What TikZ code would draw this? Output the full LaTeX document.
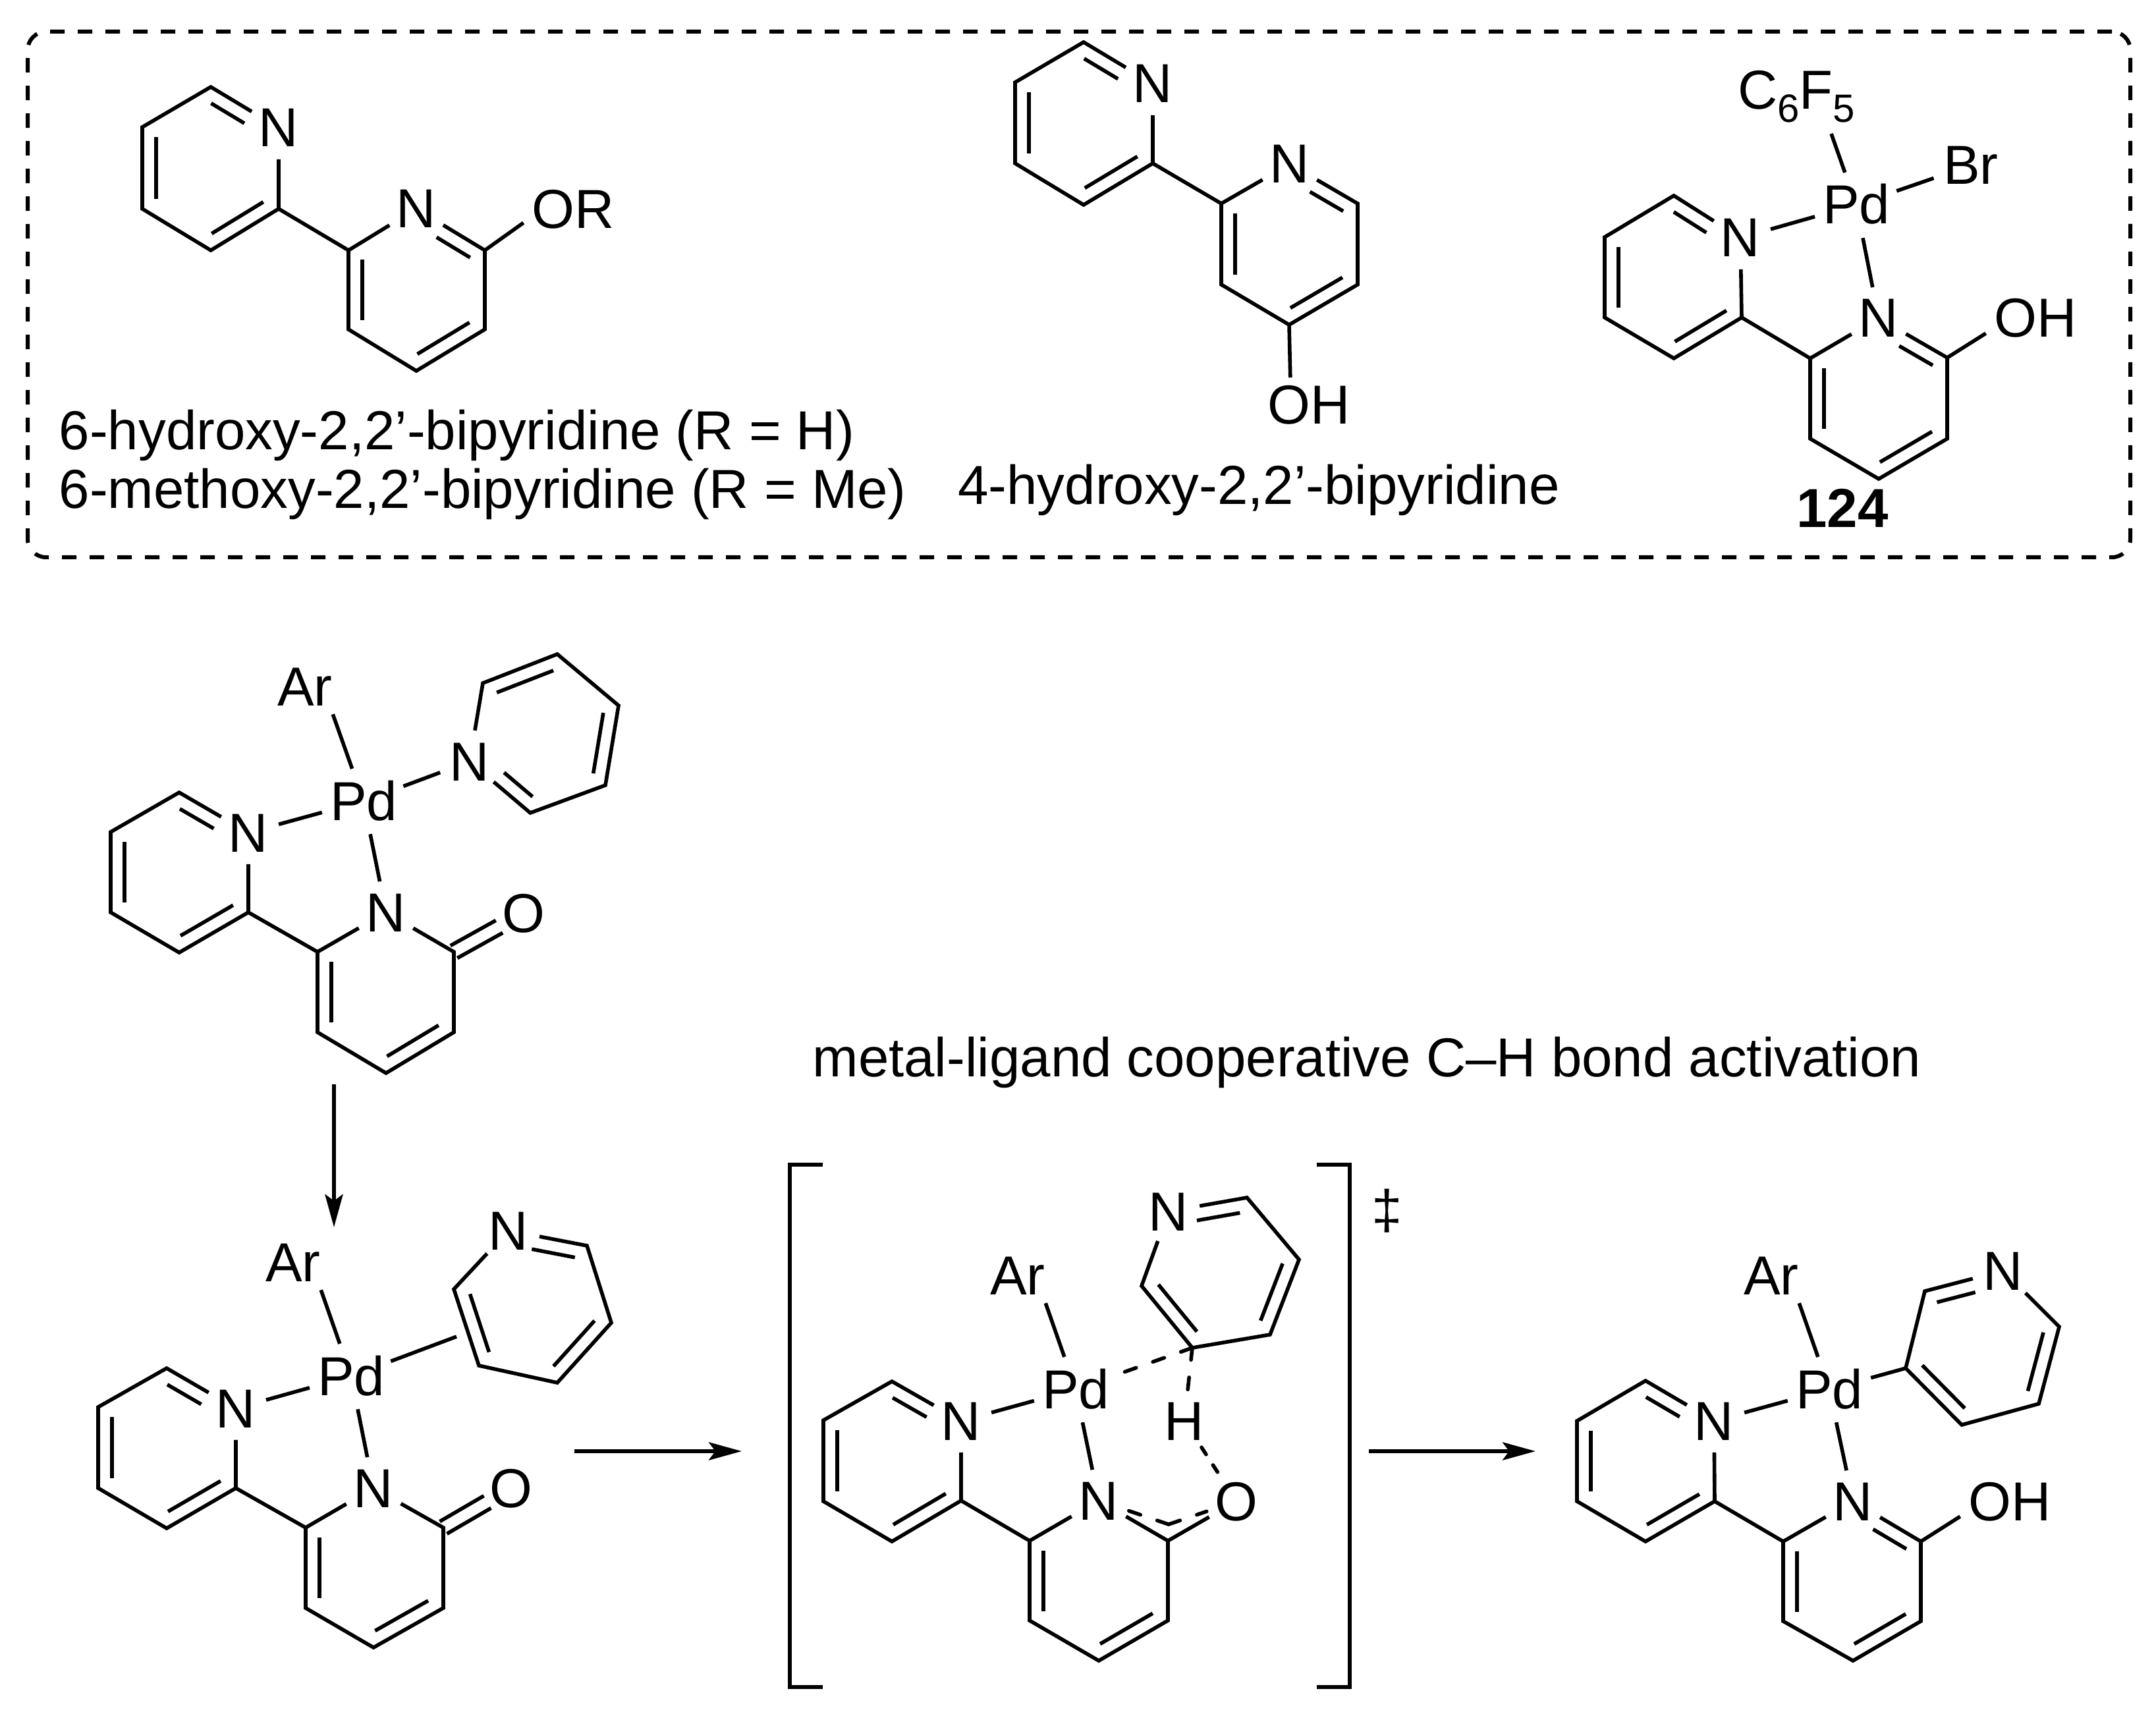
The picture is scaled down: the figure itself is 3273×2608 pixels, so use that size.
\documentclass[tikz,border=0pt]{standalone}
\usepackage{fontspec}
\setmainfont{Liberation Sans}
\usetikzlibrary{arrows.meta,calc,shapes.geometric}
\newcommand{\chemsize}{\fontsize{20.85}{24}\selectfont}
\newcommand{\sbs}[1]{\raisebox{-5pt}{\fontsize{15}{15}\selectfont #1}}
\newcommand{\dbl}[4]{\draw[bond] ($(#1)!#3!(#2)!5.25pt!90:(#2)$) -- ($(#1)!#4!(#2)!5.25pt!90:(#2)$);}
\newcommand{\cdo}[2]{\draw[bond] ($(#1)!0!(#2)!2.7pt!90:(#2)$) -- ($(#1)!.65!(#2)!2.7pt!90:(#2)$);
\draw[bond] ($(#1)!0!(#2)!2.7pt!-90:(#2)$) -- ($(#1)!.65!(#2)!2.7pt!-90:(#2)$);}
\tikzset{
bond/.style={line width=1.4pt},
halfbond/.style={line width=1.4pt, line cap=round, dash pattern=on 4.6pt off 6.7pt},
hbond/.style={line width=1.4pt, line cap=round, dash pattern=on 3.2pt off 4.8pt},
react/.style={line width=1.4pt, -{Stealth[length=12.5pt,width=6.8pt,inset=2.5pt]}},
atom/.style={circle, inner sep=0pt, minimum size=23.5pt, font=\chemsize, text height=14.5pt, text depth=0pt},
ligand/.style={atom, inner sep=1.5pt},
metal/.style={ellipse, inner sep=0pt, inner xsep=-1pt, minimum height=25pt, font=\chemsize, text height=14.5pt, text depth=0pt},
group/.style={rectangle, inner sep=3pt, font=\chemsize, text height=14.5pt, text depth=0pt},
caption/.style={inner sep=0pt, font=\chemsize},
frame/.style={draw, rectangle, rounded corners=7pt, line width=1.5pt, dash pattern=on 5.5pt off 5pt, minimum width=798pt, minimum height=199.5pt}
}
\begin{document}
\begin{tikzpicture}[x=0.25pt,y=-0.25pt]
\useasboundingbox (0,0) rectangle (3273,2608);
\node[frame] (box) at (1638,447){};
% 6-substituted ligand
\node[atom] (an1) at (423,194){N};
\node[atom] (an2) at (632,317){N};
\node[group] (aor) at (870,318){OR};
\coordinate (a1) at (320,132);
\coordinate (a2) at (216,193);
\coordinate (a3) at (216,317);
\coordinate (a4) at (320,380);
\coordinate (a5) at (423,317);
\coordinate (a6) at (529,380);
\coordinate (a7) at (736,380);
\coordinate (a8) at (736,500);
\coordinate (a9) at (632,563);
\coordinate (a10) at (529,500);
\draw[bond] (an1) -- (a1) -- (a2) -- (a3) -- (a4) -- (a5) -- (an1);
\draw[bond] (an2) -- (a6) -- (a10) -- (a9) -- (a8) -- (a7) -- (an2);
\draw[bond] (a5) -- (a6);
\draw[bond] (a7) -- (aor.195);
\dbl{an1}{a1}{.4}{.89}
\dbl{a2}{a3}{.12}{.88}
\dbl{a4}{a5}{.12}{.88}
\dbl{a7}{an2}{.11}{.6}
\dbl{a6}{a10}{.12}{.88}
\dbl{a9}{a8}{.12}{.88}
\node[caption, anchor=base west] (alab1) at (89,683){6-hydroxy-2,2’-bipyridine (R = H)};
\node[caption, anchor=base west] (alab2) at (89,772){6-methoxy-2,2’-bipyridine (R = Me)};
% 4-hydroxy ligand
\node[atom] (bn1) at (1750,127){N};
\node[atom] (bn2) at (1958,249){N};
\node[group] (boh) at (1987,615){OH};
\coordinate (b1) at (1645,64);
\coordinate (b2) at (1541,125);
\coordinate (b3) at (1541,248);
\coordinate (b4) at (1645,311);
\coordinate (b5) at (1750,248);
\coordinate (b6) at (1854,309);
\coordinate (b7) at (2061,309);
\coordinate (b8) at (2061,432);
\coordinate (b9) at (1957,493);
\coordinate (b10) at (1854,432);
\draw[bond] (bn1) -- (b1) -- (b2) -- (b3) -- (b4) -- (b5) -- (bn1);
\draw[bond] (bn2) -- (b6) -- (b10) -- (b9) -- (b8) -- (b7) -- (bn2);
\draw[bond] (b5) -- (b6);
\draw[bond] (b9) -- (boh.124);
\dbl{bn1}{b1}{.4}{.89}
\dbl{b2}{b3}{.12}{.88}
\dbl{b4}{b5}{.12}{.88}
\dbl{b7}{bn2}{.11}{.6}
\dbl{b6}{b10}{.12}{.88}
\dbl{b9}{b8}{.12}{.88}
\node[caption, anchor=base] (blab) at (1911,766){4-hydroxy-2,2’-bipyridine};
% complex 124
\node[metal] (cpd) at (2818,311){Pd};
\node[ligand] (cbr) at (2992,251){Br};
\node[caption, anchor=base] (cc6) at (2727,166){C\sbs{6}F\sbs{5}};
\coordinate (cc6b) at (2780,203);
\node[atom] (cn1) at (2642,361){N};
\node[atom] (cn2) at (2852,483){N};
\node[group] (coh) at (3090,483){OH};
\coordinate (c1) at (2541,297);
\coordinate (c2) at (2436,360);
\coordinate (c3) at (2436,482);
\coordinate (c4) at (2541,544);
\coordinate (c5) at (2644,482);
\coordinate (c6) at (2748,544);
\coordinate (c7) at (2956,543);
\coordinate (c8) at (2956,666);
\coordinate (c9) at (2852,727);
\coordinate (c10) at (2748,666);
\draw[bond] (cn1) -- (c1) -- (c2) -- (c3) -- (c4) -- (c5) -- (cn1);
\draw[bond] (cn2) -- (c6) -- (c10) -- (c9) -- (c8) -- (c7) -- (cn2);
\draw[bond] (c5) -- (c6);
\draw[bond] (c7) -- (coh.197);
\draw[bond] (cpd) -- (cc6b);
\draw[bond] (cpd) -- (cbr);
\draw[bond] (cpd) -- (cn1);
\draw[bond] (cpd) -- (cn2);
\dbl{cn1}{c1}{.4}{.89}
\dbl{c2}{c3}{.12}{.88}
\dbl{c4}{c5}{.12}{.88}
\dbl{c7}{cn2}{.11}{.6}
\dbl{c6}{c10}{.12}{.88}
\dbl{c9}{c8}{.12}{.88}
\node[caption, anchor=base, font=\chemsize\bfseries] (clab) at (2797,801){124};
% N-bound pyridine
\node[metal] (dpd) at (552,1216){Pd};
\node[ligand] (dar) at (463,1042){Ar};
\node[atom] (dn1) at (377,1264){N};
\node[atom] (dn2) at (586,1385){N};
\node[atom] (dn3) at (713,1156){N};
\node[atom] (do) at (795,1386){O};
\coordinate (d1) at (272,1203);
\coordinate (d2) at (168,1263);
\coordinate (d3) at (168,1385);
\coordinate (d4) at (272,1446);
\coordinate (d5) at (377,1385);
\coordinate (d6) at (482,1445);
\coordinate (d7) at (689,1445);
\coordinate (d8) at (689,1567);
\coordinate (d9) at (586,1629);
\coordinate (d10) at (482,1567);
\coordinate (dp1) at (733,1037);
\coordinate (dp2) at (846,993);
\coordinate (dp3) at (939,1071);
\coordinate (dp4) at (919,1192);
\coordinate (dp5) at (805,1234);
\draw[bond] (dn1) -- (d1) -- (d2) -- (d3) -- (d4) -- (d5) -- (dn1);
\draw[bond] (dn2) -- (d6) -- (d10) -- (d9) -- (d8) -- (d7) -- (dn2);
\draw[bond] (dn3) -- (dp1) -- (dp2) -- (dp3) -- (dp4) -- (dp5) -- (dn3);
\draw[bond] (d5) -- (d6);
\draw[bond] (dpd) -- (dar.-45);
\draw[bond] (dpd) -- (dn1);
\draw[bond] (dpd) -- (dn2);
\draw[bond] (dpd) -- (dn3);
\dbl{dn1}{d1}{.4}{.89}
\dbl{d2}{d3}{.12}{.88}
\dbl{d4}{d5}{.12}{.88}
\dbl{d6}{d10}{.12}{.88}
\dbl{d9}{d8}{.12}{.88}
\dbl{dp2}{dp1}{.12}{.88}
\dbl{dp4}{dp3}{.12}{.88}
\dbl{dn3}{dp5}{.42}{.89}
\cdo{d7}{do}
\coordinate (arr1a) at (507,1646);
\coordinate (arr1b) at (507,1863);
\draw[react] (arr1a) -- (arr1b);
% pi-bound pyridine
\node[metal] (epd) at (533,2089){Pd};
\node[ligand] (ear) at (445,1916){Ar};
\node[atom] (en1) at (358,2138){N};
\node[atom] (en2) at (567,2259){N};
\node[atom] (en3) at (772,1868){N};
\node[atom] (eo) at (776,2259){O};
\coordinate (e1) at (253,2077);
\coordinate (e2) at (149,2136);
\coordinate (e3) at (149,2259);
\coordinate (e4) at (253,2320);
\coordinate (e5) at (358,2259);
\coordinate (e6) at (464,2319);
\coordinate (e7) at (673,2319);
\coordinate (e8) at (673,2441);
\coordinate (e9) at (567,2501);
\coordinate (e10) at (464,2441);
\coordinate (ep1) at (689,1957);
\coordinate (ep2) at (727,2073);
\coordinate (ep3) at (846,2099);
\coordinate (ep4) at (928,2008);
\coordinate (ep5) at (891,1891);
\coordinate (ep6) at (693,2029);
\draw[bond] (en1) -- (e1) -- (e2) -- (e3) -- (e4) -- (e5) -- (en1);
\draw[bond] (en2) -- (e6) -- (e10) -- (e9) -- (e8) -- (e7) -- (en2);
\draw[bond] (en3) -- (ep1) -- (ep2) -- (ep3) -- (ep4) -- (ep5) -- (en3);
\draw[bond] (e5) -- (e6);
\draw[bond] (epd) -- (ear.-45);
\draw[bond] (epd) -- (en1);
\draw[bond] (epd) -- (en2);
\draw[bond] (epd) -- (ep6);
\dbl{en1}{e1}{.4}{.89}
\dbl{e2}{e3}{.12}{.88}
\dbl{e4}{e5}{.12}{.88}
\dbl{e6}{e10}{.12}{.88}
\dbl{e9}{e8}{.12}{.88}
\dbl{ep1}{ep2}{.12}{.88}
\dbl{ep3}{ep4}{.12}{.88}
\dbl{ep5}{en3}{.12}{.67}
\cdo{e7}{eo}
\coordinate (arr2a) at (872,2203);
\coordinate (arr2b) at (1126,2203);
\draw[react] (arr2a) -- (arr2b);
\node[caption, anchor=base] (title) at (2075,1634){metal-ligand cooperative C–H bond activation};
% transition state
\coordinate (bl1) at (1249,1768);
\coordinate (bl2) at (1199,1768);
\coordinate (bl3) at (1199,2561);
\coordinate (bl4) at (1249,2561);
\coordinate (br1) at (1999,1768);
\coordinate (br2) at (2049,1768);
\coordinate (br3) at (2049,2561);
\coordinate (br4) at (1999,2561);
\draw[bond] (bl1) -- (bl2) -- (bl3) -- (bl4);
\draw[bond] (br1) -- (br2) -- (br3) -- (br4);
\node[caption] (dagger) at (2106,1838){‡};
\node[metal] (fpd) at (1633,2109){Pd};
\node[ligand] (far) at (1545,1936){Ar};
\node[atom] (fn1) at (1459,2157){N};
\node[atom] (fn2) at (1668,2278){N};
\node[atom] (fn3) at (1774,1839){N};
\node[atom] (fo) at (1877,2279){O};
\node[atom] (fh) at (1798,2157){H};
\coordinate (f1) at (1354,2097);
\coordinate (f2) at (1250,2156);
\coordinate (f3) at (1250,2279);
\coordinate (f4) at (1354,2340);
\coordinate (f5) at (1459,2278);
\coordinate (f6) at (1563,2339);
\coordinate (f7) at (1773,2339);
\coordinate (f8) at (1773,2460);
\coordinate (f9) at (1668,2521);
\coordinate (f10) at (1563,2460);
\coordinate (f11) at (1774,2314);
\coordinate (fp1) at (1733,1952);
\coordinate (fp2) at (1810,2046);
\coordinate (fp3) at (1928,2026);
\coordinate (fp4) at (1972,1912);
\coordinate (fp5) at (1893,1818);
\draw[bond] (fn1) -- (f1) -- (f2) -- (f3) -- (f4) -- (f5) -- (fn1);
\draw[bond] (fn2) -- (f6) -- (f10) -- (f9) -- (f8) -- (f7) -- (fn2);
\draw[bond] (fn3) -- (fp1) -- (fp2) -- (fp3) -- (fp4) -- (fp5) -- (fn3);
\draw[bond] (f5) -- (f6);
\draw[bond] (f7) -- (fo);
\draw[bond] (fpd) -- (far.-45);
\draw[bond] (fpd) -- (fn1);
\draw[bond] (fpd) -- (fn2);
\draw[halfbond] (fp2) -- (fpd);
\draw[halfbond] (fp2) -- (fh);
\draw[hbond] (fh) -- (fo);
\draw[halfbond] (f11) -- (fn2);
\draw[halfbond] (f11) -- (fo);
\dbl{fn1}{f1}{.4}{.89}
\dbl{f2}{f3}{.12}{.88}
\dbl{f4}{f5}{.12}{.88}
\dbl{f6}{f10}{.12}{.88}
\dbl{f9}{f8}{.12}{.88}
\dbl{fp1}{fp2}{.12}{.88}
\dbl{fp3}{fp4}{.12}{.88}
\dbl{fp5}{fn3}{.12}{.67}
\coordinate (arr3a) at (2078,2203);
\coordinate (arr3b) at (2331,2203);
\draw[react] (arr3a) -- (arr3b);
% C-bound pyridyl product
\node[metal] (gpd) at (2777,2109){Pd};
\node[ligand] (gar) at (2689,1936){Ar};
\node[atom] (gn1) at (2602,2157){N};
\node[atom] (gn2) at (2813,2279){N};
\node[atom] (gn3) at (3041,1929){N};
\node[group] (goh) at (3051,2279){OH};
\coordinate (g1) at (2498,2096);
\coordinate (g2) at (2394,2157);
\coordinate (g3) at (2394,2279);
\coordinate (g4) at (2498,2340);
\coordinate (g5) at (2603,2279);
\coordinate (g6) at (2707,2340);
\coordinate (g7) at (2916,2340);
\coordinate (g8) at (2916,2461);
\coordinate (g9) at (2813,2521);
\coordinate (g10) at (2707,2461);
\coordinate (gp1) at (2922,1960);
\coordinate (gp2) at (2893,2077);
\coordinate (gp3) at (2978,2163);
\coordinate (gp4) at (3095,2131);
\coordinate (gp5) at (3126,2014);
\draw[bond] (gn1) -- (g1) -- (g2) -- (g3) -- (g4) -- (g5) -- (gn1);
\draw[bond] (gn2) -- (g6) -- (g10) -- (g9) -- (g8) -- (g7) -- (gn2);
\draw[bond] (gn3) -- (gp1) -- (gp2) -- (gp3) -- (gp4) -- (gp5) -- (gn3);
\draw[bond] (g5) -- (g6);
\draw[bond] (g7) -- (goh.197);
\draw[bond] (gpd) -- (gar.-45);
\draw[bond] (gpd) -- (gn1);
\draw[bond] (gpd) -- (gn2);
\draw[bond] (gpd) -- (gp2);
\dbl{gn1}{g1}{.4}{.89}
\dbl{g2}{g3}{.12}{.88}
\dbl{g4}{g5}{.12}{.88}
\dbl{g7}{gn2}{.11}{.6}
\dbl{g6}{g10}{.12}{.88}
\dbl{g9}{g8}{.12}{.88}
\dbl{gn3}{gp1}{.4}{.89}
\dbl{gp2}{gp3}{.12}{.88}
\dbl{gp4}{gp5}{.12}{.88}
\end{tikzpicture}
\end{document}
